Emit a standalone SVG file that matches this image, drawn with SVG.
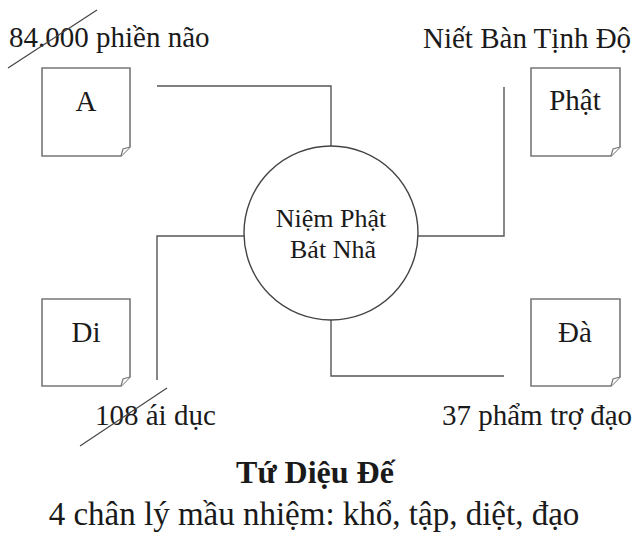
<svg xmlns="http://www.w3.org/2000/svg" width="637" height="533" viewBox="0 0 637 533">
<style>
text{font-family:"Liberation Serif","Times New Roman",serif;fill:#1a1a1a}
.lbl{font-size:29px}
.ctr{font-size:26px;text-anchor:middle}
.box{font-size:29px;text-anchor:middle}
.note{fill:#fff;stroke:#777;stroke-width:1.6}
.fold{fill:#fff;stroke:#777;stroke-width:1.2}
.conn{fill:none;stroke:#555;stroke-width:1.4}
.strike{stroke:#444;stroke-width:1.2}
</style>
<rect width="637" height="533" fill="#fff"/>
<g id="connectors">
<path class="conn" d="M157,86 H331 V146"/>
<path class="conn" d="M504,87 V236 H418"/>
<path class="conn" d="M244,236 H157 V380"/>
<path class="conn" d="M331,320 V376 H504"/>
</g>
<g id="node-center">
<circle cx="331" cy="233" r="87" fill="#fff" stroke="#444" stroke-width="1.4"/>
<text class="ctr" x="331" y="227">Niệm Phật</text>
<text class="ctr" x="333" y="258">Bát Nhã</text>
</g>
<g id="node-A">
<path class="note" d="M42,68 H130 V147 L121,156 H42 Z"/>
<path class="fold" d="M121,156 L123,149 L130,147"/>
<text class="box" x="86" y="111">A</text>
</g>
<g id="node-Phat">
<path class="note" d="M531,68 H620 V147 L611,156 H531 Z"/>
<path class="fold" d="M611,156 L613,149 L620,147"/>
<text class="box" x="575" y="110">Phật</text>
</g>
<g id="node-Di">
<path class="note" d="M42,299 H130 V377 L121,386 H42 Z"/>
<path class="fold" d="M121,386 L123,379 L130,377"/>
<text class="box" x="86" y="342">Di</text>
</g>
<g id="node-Da">
<path class="note" d="M531,299 H620 V377 L611,386 H531 Z"/>
<path class="fold" d="M611,386 L613,379 L620,377"/>
<text class="box" x="575" y="342">Đà</text>
</g>
<g id="label-phiennao">
<text class="lbl" x="9" y="47">84.000 phiền não</text>
<line class="strike" x1="97" y1="10" x2="8" y2="68"/>
</g>
<g id="label-nietban">
<text class="lbl" x="423" y="48">Niết Bàn Tịnh Độ</text>
</g>
<g id="label-aiduc">
<text class="lbl" x="95" y="425">108 ái dục</text>
<line class="strike" x1="167" y1="388" x2="80" y2="446"/>
</g>
<g id="label-trodao">
<text class="lbl" x="442" y="425">37 phẩm trợ đạo</text>
</g>
<g id="title">
<text x="315" y="483" font-size="32" font-weight="bold" text-anchor="middle">Tứ Diệu Đế</text>
<text x="314" y="525" font-size="33" text-anchor="middle">4 chân lý mầu nhiệm: khổ, tập, diệt, đạo</text>
</g>
</svg>
